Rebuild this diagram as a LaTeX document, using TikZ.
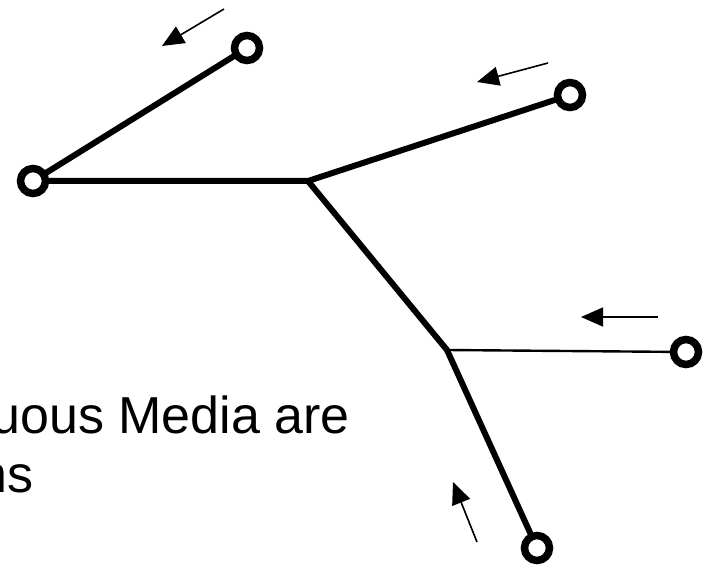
\documentclass[tikz,border=0pt]{standalone}
\usepackage{fontspec}
\setmainfont{Liberation Sans}
\usetikzlibrary{arrows.meta}
\tikzset{
  endpt/.style={circle,draw=black,fill=white,line width=7.5pt,minimum size=25pt,inner sep=0pt},
  branch/.style={line width=6pt},
  thinbranch/.style={line width=2.4pt},
  flow/.style={line width=1.6pt,-{Triangle[length=22pt,width=19pt]}},
  lbl/.style={inner sep=0pt,anchor=base east,font=\fontsize{52}{59}\selectfont}
}
\begin{document}
\begin{tikzpicture}[x=1pt,y=-1pt]
\useasboundingbox (0,0) rectangle (713,567);
\fill[white] (0,0) rectangle (713,567);
% junctions
\coordinate (j1) at (308,181);
\coordinate (j2) at (447,350);
% endpoint positions
\coordinate (pa) at (247,48);
\coordinate (pb) at (33,181);
\coordinate (pc) at (570,95);
\coordinate (pd) at (686,352);
\coordinate (pe) at (537,548);
% lines
\draw[branch,line cap=round,line join=round] (pa) -- (pb) -- (j1) -- (pc);
\draw[branch,line join=round] (j1) -- (j2) -- (pe);
\draw[thinbranch] (j2) -- (pd);
% end circles
\node[endpt] (a) at (pa) {};
\node[endpt] (b) at (pb) {};
\node[endpt] (c) at (pc) {};
\node[endpt] (d) at (pd) {};
\node[endpt] (e) at (pe) {};
% flow arrows
\coordinate (f1s) at (224,9);
\coordinate (f1e) at (162,46);
\coordinate (f2s) at (548,63);
\coordinate (f2e) at (477,82);
\coordinate (f3s) at (658,317);
\coordinate (f3e) at (581,317);
\coordinate (f4s) at (477,542);
\coordinate (f4e) at (453,482);
\draw[flow] (f1s) -- (f1e);
\draw[flow] (f2s) -- (f2e);
\draw[flow] (f3s) -- (f3e);
\draw[flow] (f4s) -- (f4e);
% text (cut by the picture edge, as in the reference)
\begin{scope}
\clip (0,0) rectangle (713,567);
\node[lbl] (t1) at (350,433) {uous Media are};
\node[lbl] (t2) at (34,492) {ns};
\end{scope}
\end{tikzpicture}
\end{document}
